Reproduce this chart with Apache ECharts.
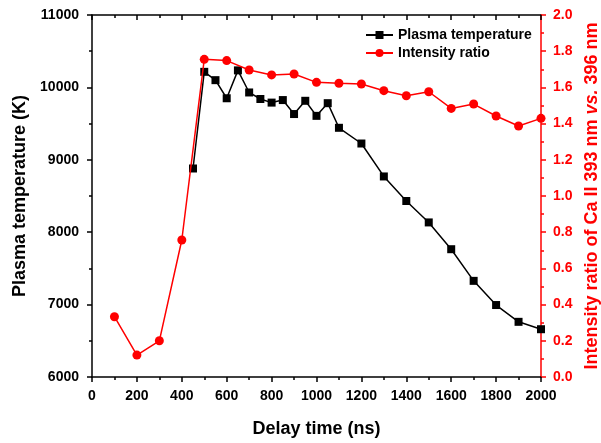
<!DOCTYPE html>
<html>
<head>
<meta charset="utf-8">
<script src="https://cdn.jsdelivr.net/npm/echarts@6/dist/echarts.min.js"></script>
<style>
html,body{margin:0;padding:0;background:#fff;}
#chart{width:601px;height:443px;}
</style>
</head>
<body>
<div id="chart"></div>
<script>
// Plasma temperature (K) vs delay time (ns)
const tempX = [450, 500, 550, 600, 650, 700, 750, 800, 850, 900, 950, 1000, 1050, 1100, 1200, 1300, 1400, 1500, 1600, 1700, 1800, 1900, 2000];
const tempY = [8880, 10215, 10100, 9850, 10235, 9930, 9840, 9790, 9825, 9632, 9815, 9607, 9782, 9442, 9225, 8770, 8431, 8135, 7765, 7328, 6994, 6762, 6660];
// Intensity ratio vs delay time (ns)
const ratioX = [100, 200, 300, 400, 500, 600, 700, 800, 900, 1000, 1100, 1200, 1300, 1400, 1500, 1600, 1700, 1800, 1900, 2000];
const ratioY = [0.333, 0.121, 0.200, 0.757, 1.755, 1.748, 1.696, 1.669, 1.674, 1.628, 1.623, 1.619, 1.582, 1.554, 1.576, 1.484, 1.508, 1.442, 1.387, 1.429];
const seriesNames = ['Plasma temperature', 'Intensity ratio'];

const FONT = '"Liberation Sans", Arial, sans-serif';
const RED = '#ff0000';
const BLACK = '#000000';

const chart = echarts.init(document.getElementById('chart'), null, {renderer: 'canvas'});
const option = {
  backgroundColor: '#ffffff',
  animation: false,
  textStyle: {fontFamily: FONT},
  grid: {left: 92, right: 60, top: 15, bottom: 66, containLabel: false, outerBoundsMode: 'none'},
  legend: {
    orient: 'vertical',
    left: 365,
    top: 28,
    padding: 0,
    itemWidth: 27,
    itemHeight: 10,
    itemGap: 4,
    textStyle: {fontFamily: FONT, fontSize: 14, fontWeight: 'bold', color: BLACK, lineHeight: 14},
    data: seriesNames
  },
  xAxis: [
    {
      type: 'value', position: 'bottom', min: 0, max: 2000, interval: 200,
      name: 'Delay time (ns)', nameLocation: 'middle', nameGap: 43,
      nameTextStyle: {fontFamily: FONT, fontSize: 18, fontWeight: 'bold', color: BLACK},
      axisLine: {show: true, onZero: false, lineStyle: {color: BLACK, width: 1.5}},
      axisTick: {show: true, inside: false, length: 5, lineStyle: {color: BLACK, width: 1.5}},
      minorTick: {show: true, splitNumber: 2, length: 3, lineStyle: {color: BLACK, width: 1.5}},
      axisLabel: {fontFamily: FONT, fontSize: 14, fontWeight: 'bold', color: BLACK, margin: 12,
        formatter: v => String(v)},
      splitLine: {show: false}
    },
    {
      type: 'value', position: 'top', min: 0, max: 2000, interval: 200,
      axisLine: {show: true, onZero: false, lineStyle: {color: BLACK, width: 1.5}},
      axisTick: {show: true, inside: true, length: 5, lineStyle: {color: BLACK, width: 1.5}},
      minorTick: {show: true, splitNumber: 2, length: 3, lineStyle: {color: BLACK, width: 1.5}},
      axisLabel: {show: false},
      splitLine: {show: false}
    }
  ],
  yAxis: [
    {
      type: 'value', position: 'left', min: 6000, max: 11000, interval: 1000,
      name: 'Plasma temperature (K)', nameLocation: 'middle', nameGap: 57, nameRotate: 90,
      nameTextStyle: {fontFamily: FONT, fontSize: 18, fontWeight: 'bold', color: BLACK},
      axisLine: {show: true, onZero: false, lineStyle: {color: BLACK, width: 1.5}},
      axisTick: {show: true, inside: false, length: 5, lineStyle: {color: BLACK, width: 1.5}},
      minorTick: {show: true, splitNumber: 2, length: 3, lineStyle: {color: BLACK, width: 1.5}},
      axisLabel: {fontFamily: FONT, fontSize: 14, fontWeight: 'bold', color: BLACK, margin: 13,
        formatter: v => String(v)},
      splitLine: {show: false}
    },
    {
      type: 'value', position: 'right', min: 0, max: 2, interval: 0.2,
      name: 'Intensity ratio of Ca II 393 nm {i|vs.} 396 nm', nameLocation: 'middle', nameGap: 40, nameRotate: 90,
      nameTextStyle: {fontFamily: FONT, fontSize: 18, fontWeight: 'bold', color: RED,
        rich: {i: {fontFamily: FONT, fontSize: 18, fontWeight: 'bold', fontStyle: 'italic', color: RED}}},
      axisLine: {show: true, onZero: false, lineStyle: {color: RED, width: 1.5}},
      axisTick: {show: true, inside: false, length: 5, lineStyle: {color: RED, width: 1.5}},
      minorTick: {show: true, splitNumber: 2, length: 3, lineStyle: {color: RED, width: 1.5}},
      axisLabel: {fontFamily: FONT, fontSize: 14, fontWeight: 'bold', color: RED, margin: 12,
        formatter: v => v.toFixed(1)},
      splitLine: {show: false}
    }
  ],
  series: [
    {
      name: seriesNames[0], type: 'line', xAxisIndex: 0, yAxisIndex: 0,
      data: tempX.map((x, i) => [x, tempY[i]]),
      symbol: 'rect', symbolSize: 8,
      lineStyle: {color: BLACK, width: 1.5},
      itemStyle: {color: BLACK},
      clip: true, z: 2
    },
    {
      name: seriesNames[1], type: 'line', xAxisIndex: 0, yAxisIndex: 1,
      data: ratioX.map((x, i) => [x, ratioY[i]]),
      symbol: 'circle', symbolSize: 9,
      lineStyle: {color: RED, width: 1.5},
      itemStyle: {color: RED},
      clip: true, z: 3
    }
  ]
};
chart.setOption(option);
</script>
</body>
</html>
